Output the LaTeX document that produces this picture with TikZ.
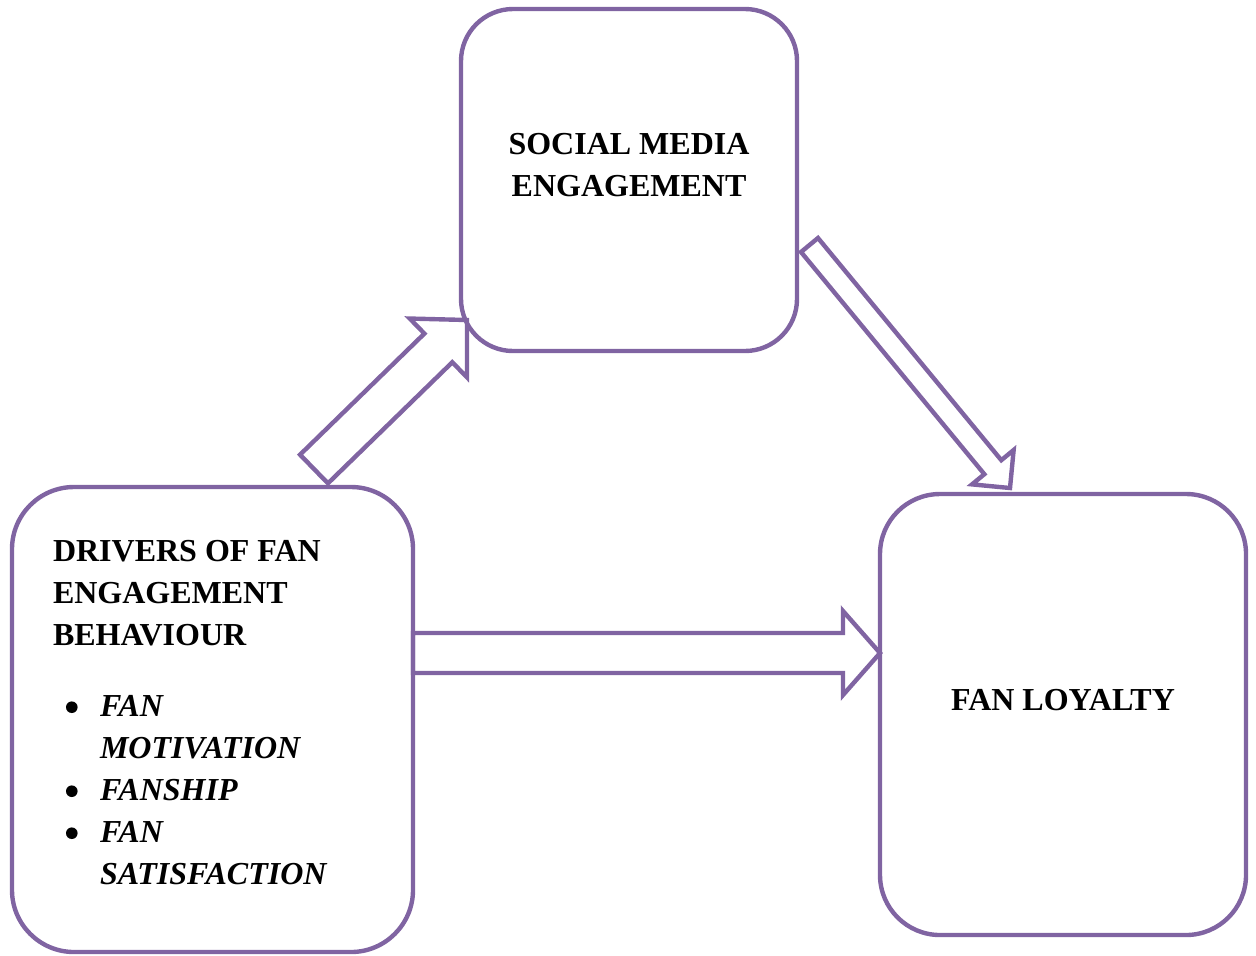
\documentclass[tikz,border=0pt]{standalone}
\usepackage{fontspec}
\setmainfont{Liberation Serif}
\usetikzlibrary{calc}
\definecolor{accent}{HTML}{8064A2}
\tikzset{
  boxnode/.style={draw=accent, line width=2.2pt, rectangle, inner sep=0pt, outer sep=0pt},
  arrowline/.style={draw=accent, line width=2.2pt, line join=miter},
  labeltext/.style={inner sep=0pt, outer sep=0pt, font=\fontsize{16}{21}\selectfont\bfseries}
}
\newcommand\blockarr[5]{%
  \coordinate (ba-c) at ($(#2)!#5!(#1)$);
  \draw[arrowline] ($(#1)!#3!90:(#2)$) -- ($(ba-c)!#3!90:(#2)$) -- ($(ba-c)!#4!90:(#2)$) -- (#2)
    -- ($(ba-c)!#4!-90:(#2)$) -- ($(ba-c)!#3!-90:(#2)$) -- ($(#1)!#3!-90:(#2)$) -- cycle;
}
\newcommand\bulletdot{\hspace*{6.5pt}\makebox[17pt][l]{\raisebox{1.6pt}{\tikz{\fill[black] (0,0) circle (2.9pt);}}}}
\begin{document}
\begin{tikzpicture}[x=0.5pt, y=-0.5pt]
\useasboundingbox (0,0) rectangle (1256,955);
% boxes
\node[boxnode, rounded corners=26pt, minimum width=168pt, minimum height=171pt] (sm) at (629,180) {};
\node[boxnode, rounded corners=31pt, minimum width=200.5pt, minimum height=232.5pt] (drv) at (212.5,719.5) {};
\node[boxnode, rounded corners=30pt, minimum width=183pt, minimum height=220.5pt] (loy) at (1063,714.5) {};
% texts
\node[labeltext, align=center, anchor=north] (smtext) at (629,133) {SOCIAL MEDIA\\ENGAGEMENT};
\node[labeltext, anchor=base] (loytext) at (1063,710) {FAN LOYALTY};
\node[labeltext, align=left, anchor=north west] (drvtext) at (53,540) {DRIVERS OF FAN\\ENGAGEMENT\\BEHAVIOUR\\[14.5pt]
\bulletdot\textit{FAN}\\
\hspace*{23.5pt}\textit{MOTIVATION}\\
\bulletdot\textit{FANSHIP}\\
\bulletdot\textit{FAN}\\
\hspace*{23.5pt}\textit{SATISFACTION}};
% connector end points
\coordinate (a1s) at (314,469);
\coordinate (a1e) at (467,320);
\coordinate (a2s) at (809.5,245);
\coordinate (a2e) at (1010,488);
\coordinate (a3s) at (drv.east |- 0,653);
\coordinate (a3e) at (loy.west |- 0,653);
% block arrows
\blockarr{a1s}{a1e}{10pt}{20.5pt}{20pt}
\blockarr{a2s}{a2e}{5.5pt}{13.5pt}{13.5pt}
\blockarr{a3s}{a3e}{10pt}{21pt}{18.5pt}
\end{tikzpicture}
\end{document}
